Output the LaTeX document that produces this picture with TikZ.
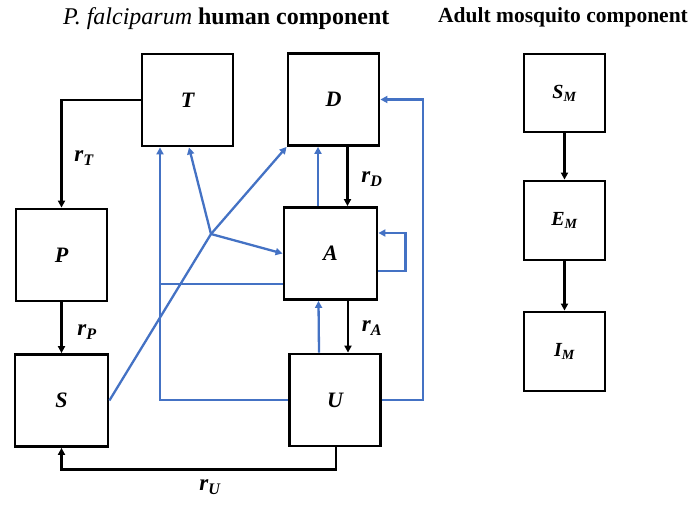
\documentclass[tikz,border=0pt]{standalone}
\usepackage{fontspec}
\setmainfont{Liberation Serif}
\usetikzlibrary{arrows.meta}
\definecolor{lnblue}{RGB}{68,114,196}
\begin{document}
\begin{tikzpicture}[x=1pt,y=-1pt,
  box/.style={draw=black, line width=2.8pt, minimum width=91pt, minimum height=92pt, inner sep=0pt,
    font=\fontsize{22}{22}\selectfont\bfseries\itshape},
  mbox/.style={box, minimum width=81pt, minimum height=78pt,
    font=\fontsize{20}{20}\selectfont\bfseries\itshape},
  blk/.style={line width=2.6pt, draw=black},
  blu/.style={line width=2.3pt, draw=lnblue},
  tip/.style={-{Triangle[length=7pt,width=7pt]}},
  rate/.style={font=\fontsize{23}{23}\selectfont\bfseries\itshape, inner sep=0pt},
  ttl/.style={inner sep=0pt, anchor=base west}]
\useasboundingbox (0,0) rectangle (696,510);

% titles
\node[ttl, font=\fontsize{24}{24}\selectfont] (t1) at (63,25) {\textit{P. falciparum} \textbf{human component}};
\node[ttl, font=\fontsize{21.5}{21.5}\selectfont\bfseries] (t2) at (438,23) {Adult mosquito component};

% human boxes
\node[box] (T) at (187.5,100) {T};
\node[box] (D) at (333.5,99.5) {D};
\node[box, minimum width=93pt] (A) at (330.5,253.5) {A};
\node[box] (U) at (335,400) {U};
\node[box] (P) at (61.5,255) {P};
\node[box, minimum width=93pt] (S) at (61.5,400.5) {S};

% mosquito boxes
\node[mbox] (SM) at (564.5,93) {S\textsubscript{M}};
\node[mbox, minimum height=79pt] (EM) at (564.5,220.5) {E\textsubscript{M}};
\node[mbox, minimum height=79pt] (IM) at (564.5,351.5) {I\textsubscript{M}};

% black transitions
\draw[blk,tip] (T.west) -| (P.north);
\draw[blk,tip] (P.south) -- (S.north);
\draw[blk,tip] ([xshift=14pt]D.south) -- ([xshift=17pt]A.north);
\draw[blk,tip] ([xshift=17.5pt]A.south) -- ([xshift=13pt]U.north);
\draw[blk,tip] ([xshift=1pt]U.south) -- ++(0,22) -| (S.south);
\draw[blk,tip] (SM.south) -- (EM.north);
\draw[blk,tip] (EM.south) -- (IM.north);

% rate labels
\node[rate] (rT) at (84,158) {r\textsubscript{T}};
\node[rate] (rP) at (87,332) {r\textsubscript{P}};
\node[rate] (rD) at (372,179) {r\textsubscript{D}};
\node[rate] (rA) at (372,328) {r\textsubscript{A}};
\node[rate] (rU) at (210,487) {r\textsubscript{U}};

% blue influences
\coordinate (vl) at ([xshift=-27.5pt]T.south);
\coordinate (al) at ([yshift=-30.5pt]A.west);
\coordinate (J) at (211,234);
\draw[blu,tip] ([xshift=-12.5pt]A.north) -- ([xshift=-15.5pt]D.south);
\draw[blu,tip] ([xshift=-16pt]U.north) -- ([xshift=-12pt]A.south);
\draw[blu,tip] ([yshift=-17.5pt]A.east) -- ++(27,0) -- ++(0,-38) -- ([yshift=20.5pt]A.east);
\draw[blu,tip] (U.east) -- ++(41,0) |- (D.east);
\draw[blu,tip] (U.west) -| (vl);
\draw[blu] (al) -- (al -| vl);
\draw[blu] (S.east) -- (J);
\draw[blu,tip] (J) -- (D.south west);
\draw[blu,tip] (J) -- ([xshift=1.5pt]T.south);
\draw[blu,tip] (J) -- (A.west);
\end{tikzpicture}
\end{document}
